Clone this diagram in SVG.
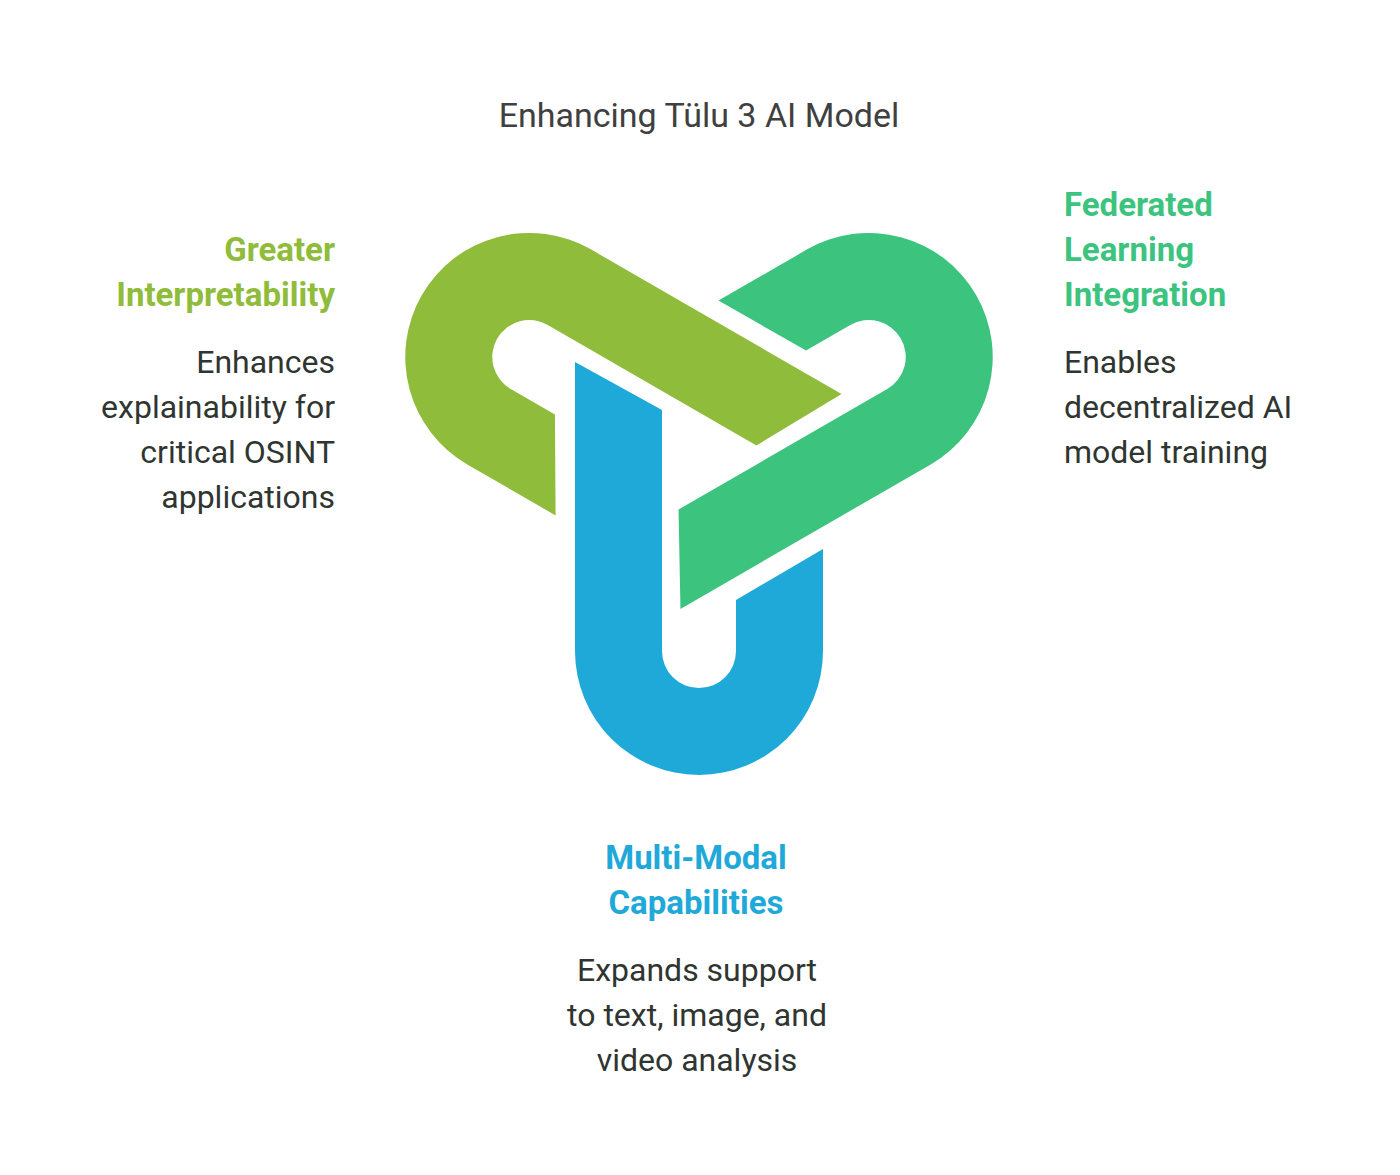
<svg xmlns="http://www.w3.org/2000/svg" width="1400" height="1175" viewBox="0 0 1400 1175">
<style>
text{font-family:Roboto,"Liberation Sans",sans-serif}
.t{font-size:34px;fill:#404040}
.h{font-size:33px;font-weight:bold}
.b{font-size:32px;fill:#2f3530}
</style>
<defs>
<path id="u" d="M575,362 L575,651 A124,124 0 0 0 823,651 L823,549 L736,600 L736,651 A37,37 0 0 1 662,651 L662,410 Z"/>
</defs>
<rect width="1400" height="1175" fill="#fff"/>
<text class="t" x="699" y="127" text-anchor="middle">Enhancing Tülu 3 AI Model</text>
<g id="blue"><use href="#u" fill="#1FA9D9"/></g>
<g id="green"><use href="#u" fill="#8FBC3A" transform="rotate(120 699 455)"/></g>
<g id="teal"><use href="#u" fill="#3CC47F" transform="rotate(240 699 455)"/></g>
<g id="n1" text-anchor="end">
<text class="h" fill="#8FBC3A" x="335" y="261">Greater</text>
<text class="h" fill="#8FBC3A" x="335" y="306">Interpretability</text>
<text class="b" x="335" y="373">Enhances</text>
<text class="b" x="335" y="418">explainability for</text>
<text class="b" x="335" y="463">critical OSINT</text>
<text class="b" x="335" y="508">applications</text>
</g>
<g id="n2">
<text class="h" fill="#3CC47F" x="1064" y="216">Federated</text>
<text class="h" fill="#3CC47F" x="1064" y="261">Learning</text>
<text class="h" fill="#3CC47F" x="1064" y="306">Integration</text>
<text class="b" x="1064" y="373">Enables</text>
<text class="b" x="1064" y="418">decentralized AI</text>
<text class="b" x="1064" y="463">model training</text>
</g>
<g id="n3" text-anchor="middle">
<text class="h" fill="#1FA9D9" x="696" y="869">Multi-Modal</text>
<text class="h" fill="#1FA9D9" x="696" y="914">Capabilities</text>
<text class="b" x="697" y="981">Expands support</text>
<text class="b" x="697" y="1026">to text, image, and</text>
<text class="b" x="697" y="1071">video analysis</text>
</g>
<g id="connectors"/>
</svg>
